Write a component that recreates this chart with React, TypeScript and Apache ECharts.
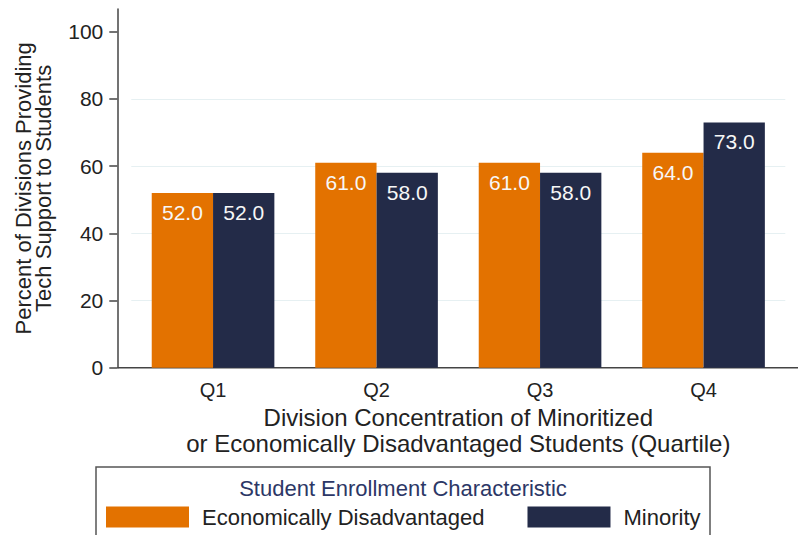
import React, { useEffect, useRef } from "react";
import * as echarts from "echarts";

// Quartile categories and the share of divisions providing tech support
const quartiles = ["Q1", "Q2", "Q3", "Q4"];
const econDisadvantaged = [52, 61, 61, 64];
const minority = [52, 58, 58, 73];
const yTicks = [0, 20, 40, 60, 80, 100];

const seriesNames = ["Economically Disadvantaged", "Minority"];
const legendTitle = "Student Enrollment Characteristic";
const xTitle = "Division Concentration of Minoritized\nor Economically Disadvantaged Students (Quartile)";
const yTitle = "Percent of Divisions Providing\nTech Support to Students";

const ORANGE = "#e37200";
const NAVY = "#232b48";
const FONT = "Liberation Sans, Arial, sans-serif";

export default function App() {
  const ref = useRef<HTMLDivElement>(null);

  useEffect(() => {
    if (!ref.current) return;
    const chart = echarts.init(ref.current, null, { renderer: "svg" });

    const barLabel = {
      show: true,
      position: "insideTop",
      distance: 9,
      color: "#f7f7f7",
      fontSize: 21,
      fontFamily: FONT,
      formatter: (p: any) => Number(p.value).toFixed(1),
    };

    chart.setOption({
      animation: false,
      backgroundColor: "#ffffff",
      textStyle: { fontFamily: FONT },
      grid: { left: 131.3, right: 18.7, top: 9, bottom: 167.3, containLabel: false },
      xAxis: {
        type: "category",
        data: quartiles,
        axisLine: { show: false },
        axisTick: { show: false },
        axisLabel: { color: "#222", fontSize: 20, margin: 12, fontFamily: FONT },
        name: xTitle,
        nameLocation: "middle",
        nameGap: 37,
        nameTextStyle: { color: "#222", fontSize: 24, lineHeight: 26, fontFamily: FONT },
      },
      yAxis: {
        type: "value",
        min: 0,
        max: 106.75,
        offset: 14,
        axisLine: { show: true, lineStyle: { color: "#444", width: 1.5 } },
        axisTick: { show: true, length: 8, customValues: yTicks, lineStyle: { color: "#444", width: 1.5 } },
        axisLabel: { customValues: yTicks, color: "#222", fontSize: 21, margin: 14, fontFamily: FONT },
        splitLine: { show: true, showMinLine: false, showMaxLine: false, lineStyle: { color: "#e6f0f2", width: 1 } },
        interval: 20,
        name: yTitle,
        nameLocation: "middle",
        nameGap: 64,
        nameRotate: 90,
        nameTextStyle: { color: "#222", fontSize: 22, lineHeight: 20, fontFamily: FONT },
      },
      legend: {
        left: 106,
        top: 506,
        padding: 0,
        itemWidth: 83,
        itemHeight: 21,
        itemGap: 43,
        icon: "rect",
        textStyle: { color: "#222", fontSize: 22, fontFamily: FONT, padding: [0, 0, 0, 8] },
        data: seriesNames,
      },
      graphic: [
        {
          type: "line",
          shape: { x1: 117.3, y1: 367.7, x2: 798, y2: 367.7 },
          style: { stroke: "#444", lineWidth: 1.5 },
          silent: true,
        },
        {
          type: "rect",
          shape: { x: 96, y: 467, width: 614, height: 90 },
          style: { fill: "none", stroke: "#555", lineWidth: 1.5 },
          silent: true,
        },
        {
          type: "text",
          x: 403,
          y: 488,
          style: {
            text: legendTitle,
            fill: "#2c3766",
            fontSize: 22,
            fontFamily: FONT,
            textAlign: "center",
            textVerticalAlign: "middle",
          },
          silent: true,
        },
      ],
      series: [
        {
          name: seriesNames[0],
          type: "bar",
          data: econDisadvantaged,
          barGap: "0%",
          barCategoryGap: "25%",
          itemStyle: { color: ORANGE },
          label: barLabel,
        },
        {
          name: seriesNames[1],
          type: "bar",
          data: minority,
          barGap: "0%",
          barCategoryGap: "25%",
          itemStyle: { color: NAVY },
          label: barLabel,
        },
      ],
    });

    return () => chart.dispose();
  }, []);

  return (
    <div
      ref={ref}
      style={{ position: "fixed", left: 0, top: 0, width: 804, height: 535, background: "#fff" }}
    />
  );
}
